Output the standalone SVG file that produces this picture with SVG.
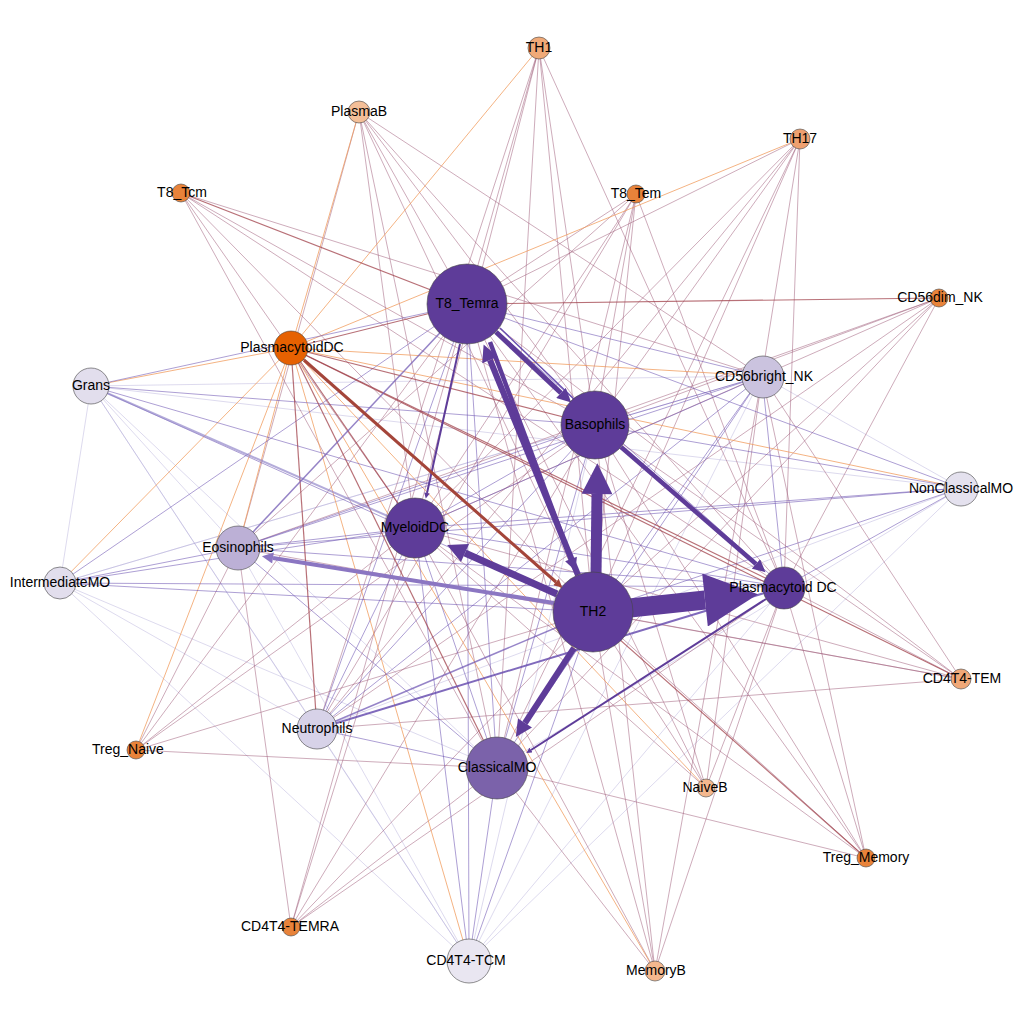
<svg xmlns="http://www.w3.org/2000/svg" width="1024" height="1024" viewBox="0 0 1024 1024">
<style>
.m{stroke:#9e5a78;stroke-opacity:.5;stroke-width:1}
.o{stroke:#f09a5a;stroke-opacity:.75;stroke-width:1}
.d{stroke:#a0404a;stroke-opacity:.75;stroke-width:1.2}
.p{stroke:#6a50b0;stroke-opacity:.55;stroke-width:1}
.l{stroke:#aaa2d4;stroke-opacity:.4;stroke-width:1}
.a{stroke:#5e3c99;fill:none}
.n circle{stroke:#444;stroke-width:.6}
text{font-family:"Liberation Sans",Arial,Helvetica,sans-serif;font-size:14px;text-anchor:middle;fill:#000}
</style>
<defs>
<marker id="ahP" viewBox="0 0 10 10" refX="0" refY="5" markerWidth="3" markerHeight="2.8" orient="auto" markerUnits="strokeWidth"><path d="M0,0L10,5L0,10z" fill="#5e3c99"/></marker>
<marker id="ahL" viewBox="0 0 10 10" refX="0" refY="5" markerWidth="3" markerHeight="2.8" orient="auto" markerUnits="strokeWidth"><path d="M0,0L10,5L0,10z" fill="#8b76c2"/></marker>
<marker id="ahR" viewBox="0 0 10 10" refX="0" refY="5" markerWidth="3" markerHeight="2.8" orient="auto" markerUnits="strokeWidth"><path d="M0,0L10,5L0,10z" fill="#a4453a"/></marker>
</defs>
<rect width="1024" height="1024" fill="#fff"/>
<g id="connectors">
<g class="l">
<line x1="91" y1="386" x2="762" y2="376"/><line x1="91" y1="386" x2="961" y2="488"/><line x1="91" y1="386" x2="497" y2="768"/><line x1="91" y1="386" x2="469" y2="961"/><line x1="91" y1="386" x2="317" y2="729"/><line x1="91" y1="386" x2="238" y2="548"/><line x1="91" y1="386" x2="60" y2="583"/>
<line x1="60" y1="583" x2="595" y2="425"/><line x1="60" y1="583" x2="497" y2="768"/><line x1="60" y1="583" x2="317" y2="729"/><line x1="60" y1="583" x2="469" y2="961"/><line x1="60" y1="583" x2="762" y2="376"/>
<line x1="961" y1="488" x2="762" y2="376"/><line x1="961" y1="488" x2="497" y2="768"/><line x1="961" y1="488" x2="317" y2="729"/><line x1="961" y1="488" x2="469" y2="961"/>
<line x1="469" y1="961" x2="595" y2="425"/><line x1="469" y1="961" x2="784" y2="587"/><line x1="469" y1="961" x2="238" y2="548"/><line x1="469" y1="961" x2="317" y2="729"/><line x1="469" y1="961" x2="762" y2="376"/>
</g>
<g class="m">
<line x1="539" y1="48" x2="467" y2="304"/><line x1="539" y1="48" x2="415" y2="528"/><line x1="539" y1="48" x2="593" y2="612"/><line x1="539" y1="48" x2="595" y2="425"/><line x1="539" y1="48" x2="784" y2="587"/><line x1="539" y1="48" x2="497" y2="768"/><line x1="539" y1="48" x2="317" y2="729"/>
<line x1="359" y1="112" x2="467" y2="304"/><line x1="359" y1="112" x2="595" y2="425"/><line x1="359" y1="112" x2="593" y2="612"/><line x1="359" y1="112" x2="784" y2="587"/><line x1="359" y1="112" x2="497" y2="768"/><line x1="359" y1="112" x2="415" y2="528"/><line x1="359" y1="112" x2="762" y2="376"/><line x1="359" y1="112" x2="238" y2="548"/>
<line x1="800" y1="139" x2="467" y2="304"/><line x1="800" y1="139" x2="595" y2="425"/><line x1="800" y1="139" x2="593" y2="612"/><line x1="800" y1="139" x2="415" y2="528"/><line x1="800" y1="139" x2="784" y2="587"/><line x1="800" y1="139" x2="497" y2="768"/><line x1="800" y1="139" x2="762" y2="376"/><line x1="800" y1="139" x2="317" y2="729"/>
<line x1="181" y1="193" x2="762" y2="376"/><line x1="181" y1="193" x2="595" y2="425"/><line x1="181" y1="193" x2="784" y2="587"/><line x1="181" y1="193" x2="593" y2="612"/><line x1="181" y1="193" x2="415" y2="528"/><line x1="181" y1="193" x2="497" y2="768"/>
<line x1="636" y1="194" x2="467" y2="304"/><line x1="636" y1="194" x2="415" y2="528"/><line x1="636" y1="194" x2="595" y2="425"/><line x1="636" y1="194" x2="593" y2="612"/><line x1="636" y1="194" x2="497" y2="768"/><line x1="636" y1="194" x2="238" y2="548"/><line x1="636" y1="194" x2="317" y2="729"/><line x1="636" y1="194" x2="784" y2="587"/>
<line x1="939" y1="298" x2="595" y2="425"/><line x1="939" y1="298" x2="593" y2="612"/><line x1="939" y1="298" x2="415" y2="528"/><line x1="939" y1="298" x2="497" y2="768"/><line x1="939" y1="298" x2="238" y2="548"/><line x1="939" y1="298" x2="317" y2="729"/><line x1="939" y1="298" x2="784" y2="587"/>
<line x1="961" y1="679" x2="595" y2="425"/><line x1="961" y1="679" x2="593" y2="612"/><line x1="961" y1="679" x2="415" y2="528"/><line x1="961" y1="679" x2="467" y2="304"/><line x1="961" y1="679" x2="784" y2="587"/><line x1="961" y1="679" x2="317" y2="729"/><line x1="961" y1="679" x2="238" y2="548"/><line x1="961" y1="679" x2="762" y2="376"/>
<line x1="866" y1="858" x2="467" y2="304"/><line x1="866" y1="858" x2="595" y2="425"/><line x1="866" y1="858" x2="593" y2="612"/><line x1="866" y1="858" x2="784" y2="587"/><line x1="866" y1="858" x2="415" y2="528"/><line x1="866" y1="858" x2="762" y2="376"/><line x1="866" y1="858" x2="497" y2="768"/>
<line x1="706" y1="788" x2="467" y2="304"/><line x1="706" y1="788" x2="595" y2="425"/><line x1="706" y1="788" x2="593" y2="612"/><line x1="706" y1="788" x2="784" y2="587"/><line x1="706" y1="788" x2="415" y2="528"/><line x1="706" y1="788" x2="762" y2="376"/>
<line x1="655" y1="971" x2="467" y2="304"/><line x1="655" y1="971" x2="595" y2="425"/><line x1="655" y1="971" x2="593" y2="612"/><line x1="655" y1="971" x2="784" y2="587"/><line x1="655" y1="971" x2="762" y2="376"/><line x1="655" y1="971" x2="415" y2="528"/><line x1="655" y1="971" x2="497" y2="768"/>
<line x1="291" y1="927" x2="467" y2="304"/><line x1="291" y1="927" x2="595" y2="425"/><line x1="291" y1="927" x2="593" y2="612"/><line x1="291" y1="927" x2="415" y2="528"/><line x1="291" y1="927" x2="497" y2="768"/><line x1="291" y1="927" x2="238" y2="548"/><line x1="291" y1="927" x2="784" y2="587"/>
<line x1="136" y1="750" x2="467" y2="304"/><line x1="136" y1="750" x2="595" y2="425"/><line x1="136" y1="750" x2="415" y2="528"/><line x1="136" y1="750" x2="593" y2="612"/><line x1="136" y1="750" x2="497" y2="768"/><line x1="136" y1="750" x2="238" y2="548"/>
</g>
<g class="o">
<line x1="291" y1="348" x2="539" y2="48"/><line x1="291" y1="348" x2="359" y2="112"/><line x1="291" y1="348" x2="800" y2="139"/><line x1="291" y1="348" x2="91" y2="386"/><line x1="291" y1="348" x2="60" y2="583"/><line x1="291" y1="348" x2="469" y2="961"/><line x1="291" y1="348" x2="655" y2="971"/><line x1="291" y1="348" x2="706" y2="788"/><line x1="291" y1="348" x2="762" y2="376"/><line x1="291" y1="348" x2="961" y2="488"/><line x1="291" y1="348" x2="238" y2="548"/><line x1="291" y1="348" x2="136" y2="750"/>
</g>
<g class="p">
<line x1="91" y1="386" x2="467" y2="304"/><line x1="91" y1="386" x2="595" y2="425"/><line x1="91" y1="386" x2="593" y2="612"/><line x1="91" y1="386" x2="784" y2="587"/>
<line x1="60" y1="583" x2="467" y2="304"/><line x1="60" y1="583" x2="238" y2="548"/><line x1="60" y1="583" x2="415" y2="528"/><line x1="60" y1="583" x2="593" y2="612"/><line x1="60" y1="583" x2="784" y2="587"/>
<line x1="961" y1="488" x2="467" y2="304"/><line x1="961" y1="488" x2="595" y2="425"/><line x1="961" y1="488" x2="593" y2="612"/><line x1="961" y1="488" x2="415" y2="528"/><line x1="961" y1="488" x2="784" y2="587"/><line x1="961" y1="488" x2="238" y2="548"/>
<line x1="762" y1="376" x2="467" y2="304"/><line x1="762" y1="376" x2="595" y2="425"/><line x1="762" y1="376" x2="415" y2="528"/><line x1="762" y1="376" x2="593" y2="612"/><line x1="762" y1="376" x2="497" y2="768"/><line x1="762" y1="376" x2="784" y2="587"/><line x1="762" y1="376" x2="238" y2="548"/><line x1="762" y1="376" x2="317" y2="729"/>
<line x1="238" y1="548" x2="595" y2="425"/><line x1="238" y1="548" x2="415" y2="528"/><line x1="238" y1="548" x2="784" y2="587"/><line x1="238" y1="548" x2="497" y2="768"/>
<line x1="317" y1="729" x2="467" y2="304"/><line x1="317" y1="729" x2="595" y2="425"/><line x1="317" y1="729" x2="415" y2="528"/><line x1="317" y1="729" x2="497" y2="768"/>
<line x1="497" y1="768" x2="467" y2="304"/><line x1="497" y1="768" x2="595" y2="425"/><line x1="497" y1="768" x2="415" y2="528"/>
<line x1="469" y1="961" x2="467" y2="304"/><line x1="469" y1="961" x2="415" y2="528"/><line x1="469" y1="961" x2="593" y2="612"/><line x1="469" y1="961" x2="497" y2="768"/>
<line x1="467" y1="304" x2="784" y2="587"/><line x1="595" y1="425" x2="415" y2="528"/><line x1="415" y1="528" x2="784" y2="587"/>
</g>
<g class="d">
<line x1="181" y1="193" x2="467" y2="304"/><line x1="939" y1="298" x2="467" y2="304"/>
<line x1="291" y1="348" x2="467" y2="304"/><line x1="291" y1="348" x2="595" y2="425"/><line x1="291" y1="348" x2="415" y2="528"/><line x1="291" y1="348" x2="497" y2="768"/><line x1="291" y1="348" x2="317" y2="729"/><line x1="291" y1="348" x2="784" y2="587"/><line x1="291" y1="348" x2="866" y2="858"/><line x1="291" y1="348" x2="961" y2="679"/>
</g>
<line x1="91" y1="386" x2="415" y2="528" stroke="#8c7fc6" stroke-width="2" stroke-opacity=".65"/>
<line x1="238" y1="548" x2="467" y2="304" stroke="#7a64b8" stroke-width="1.5" stroke-opacity=".8"/>
<line x1="317" y1="729" x2="784" y2="587" stroke="#6a50b0" stroke-width="2" stroke-opacity=".85"/>
<line x1="317" y1="729" x2="593" y2="612" stroke="#6a50b0" stroke-width="1.5" stroke-opacity=".7"/>
<line x1="575" y1="400" x2="500" y2="328" stroke="#6a50b0" stroke-width="1.5"/>
<line class="a" x1="630" y1="608" x2="705" y2="600" stroke-width="19" marker-end="url(#ahP)"/>
<line class="a" x1="596" y1="575" x2="597" y2="494" stroke-width="11" marker-end="url(#ahP)"/>
<line class="a" x1="578" y1="575" x2="490" y2="360" stroke-width="6" marker-end="url(#ahP)"/>
<line class="a" x1="490" y1="342" x2="571" y2="559" stroke-width="4.5" marker-end="url(#ahP)"/>
<line class="a" x1="496" y1="332" x2="561" y2="393" stroke-width="5" marker-end="url(#ahP)"/>
<line class="a" x1="621" y1="447" x2="756" y2="564" stroke-width="4.5" marker-end="url(#ahP)"/>
<line class="a" x1="557" y1="594" x2="465" y2="553" stroke-width="7" marker-end="url(#ahP)"/>
<line x1="554" y1="603" x2="273" y2="558" stroke="#8b76c2" stroke-width="4" marker-end="url(#ahL)"/>
<line class="a" x1="574" y1="648" x2="525" y2="723" stroke-width="6" marker-end="url(#ahP)"/>
<line class="a" x1="460" y1="344" x2="427" y2="493" stroke-width="2" marker-end="url(#ahP)"/>
<line x1="304" y1="360" x2="556" y2="582" stroke="#a4453a" stroke-width="3" marker-end="url(#ahR)"/>
<line class="a" x1="766" y1="599" x2="531" y2="750" stroke-width="2" marker-end="url(#ahP)"/>
</g>
<g id="nodes">
<g class="n" id="n-TH1"><circle cx="539" cy="48" r="11" fill="#f0aa78"/><text x="539" y="52">TH1</text></g>
<g class="n" id="n-PlasmaB"><circle cx="359" cy="112" r="11" fill="#f4bf98"/><text x="359" y="116">PlasmaB</text></g>
<g class="n" id="n-TH17"><circle cx="800" cy="139" r="10" fill="#eea070"/><text x="800" y="143">TH17</text></g>
<g class="n" id="n-T8_Tcm"><circle cx="181" cy="193" r="9" fill="#e8833a"/><text x="182" y="197">T8_Tcm</text></g>
<g class="n" id="n-T8_Tem"><circle cx="636" cy="194" r="9" fill="#e8833a"/><text x="636" y="198">T8_Tem</text></g>
<g class="n" id="n-T8_Temra"><circle cx="467" cy="304" r="40" fill="#5e3c99"/><text x="467" y="308">T8_Temra</text></g>
<g class="n" id="n-CD56dim_NK"><circle cx="939" cy="298" r="9" fill="#e8833a"/><text x="940" y="302">CD56dim_NK</text></g>
<g class="n" id="n-PlasmacytoidDC"><circle cx="291" cy="348" r="17" fill="#e66101"/><text x="292" y="352">PlasmacytoidDC</text></g>
<g class="n" id="n-Grans"><circle cx="91" cy="386" r="18" fill="#e2deed"/><text x="91" y="390">Grans</text></g>
<g class="n" id="n-CD56bright_NK"><circle cx="763" cy="377" r="21" fill="#cbc3df"/><text x="764" y="381">CD56bright_NK</text></g>
<g class="n" id="n-Basophils"><circle cx="595" cy="425" r="34" fill="#5e3c99"/><text x="595" y="429">Basophils</text></g>
<g class="n" id="n-NonClassicalMO"><circle cx="961" cy="489" r="17" fill="#e4e1ee"/><text x="961" y="493">NonClassicalMO</text></g>
<g class="n" id="n-MyeloidDC"><circle cx="415" cy="528" r="30" fill="#5e3c99"/><text x="415" y="532">MyeloidDC</text></g>
<g class="n" id="n-Eosinophils"><circle cx="238" cy="548" r="22" fill="#bcb0d6"/><text x="238" y="552">Eosinophils</text></g>
<g class="n" id="n-IntermediateMO"><circle cx="60" cy="583" r="16" fill="#e2deed"/><text x="60" y="587">IntermediateMO</text></g>
<g class="n" id="n-TH2"><circle cx="593" cy="612" r="40" fill="#5e3c99"/><text x="593" y="616">TH2</text></g>
<g class="n" id="n-Plasmacytoid_DC"><circle cx="784" cy="588" r="21" fill="#5e3c99"/><text x="783" y="592">Plasmacytoid DC</text></g>
<g class="n" id="n-CD4T4-TEM"><circle cx="961" cy="679" r="10" fill="#f0a878"/><text x="962" y="683">CD4T4-TEM</text></g>
<g class="n" id="n-Neutrophils"><circle cx="317" cy="729" r="20" fill="#d7d2e8"/><text x="317" y="733">Neutrophils</text></g>
<g class="n" id="n-Treg_Naive"><circle cx="136" cy="750" r="9" fill="#e8833a"/><text x="128" y="754">Treg_Naive</text></g>
<g class="n" id="n-ClassicalMO"><circle cx="497" cy="768" r="31" fill="#7b62aa"/><text x="497" y="772">ClassicalMO</text></g>
<g class="n" id="n-NaiveB"><circle cx="706" cy="788" r="9" fill="#f4b88e"/><text x="705" y="792">NaiveB</text></g>
<g class="n" id="n-Treg_Memory"><circle cx="866" cy="858" r="9" fill="#e8833a"/><text x="866" y="862">Treg_Memory</text></g>
<g class="n" id="n-CD4T4-TEMRA"><circle cx="291" cy="927" r="9" fill="#e8833a"/><text x="290" y="931">CD4T4-TEMRA</text></g>
<g class="n" id="n-CD4T4-TCM"><circle cx="469" cy="961" r="22" fill="#e9e6f1"/><text x="466" y="965">CD4T4-TCM</text></g>
<g class="n" id="n-MemoryB"><circle cx="655" cy="971" r="10" fill="#f4b88e"/><text x="656" y="975">MemoryB</text></g>
</g>
</svg>
